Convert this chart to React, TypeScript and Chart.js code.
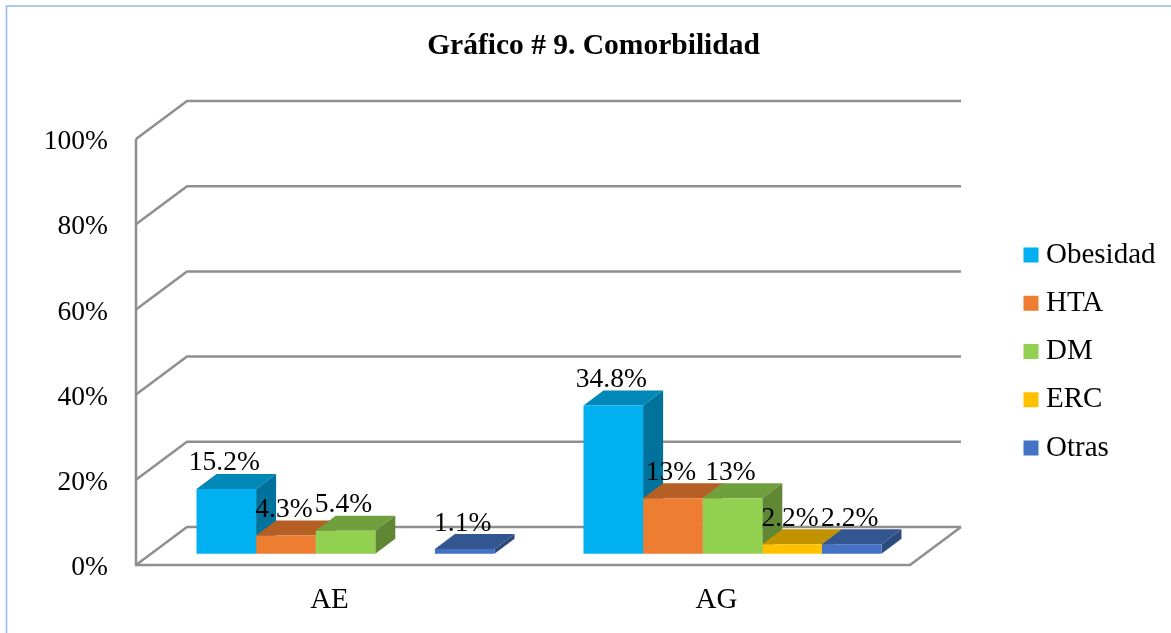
import React, { useEffect, useRef } from "react";
import { Chart, registerables } from "chart.js";

Chart.register(...registerables);

const categories = ["AE", "AG"];
const seriesNames = ["Obesidad", "HTA", "DM", "ERC", "Otras"];
const obesidad = [15.2, 34.8];
const hta = [4.3, 13];
const dm = [5.4, 13];
const erc = [null, 2.2];
const otras = [1.1, 2.2];
const seriesValues = [obesidad, hta, dm, erc, otras];
const seriesColors = ["#00B0F0", "#ED7D31", "#92D050", "#FFC000", "#4472C4"];
const seriesTops = ["#0088B9", "#B65F25", "#709F3D", "#C29300", "#345690"];
const seriesSides = ["#00729C", "#9A5020", "#5F8734", "#A67C00", "#2C4A7E"];
const yTicks = [0, 20, 40, 60, 80, 100];

const FONT = '"Liberation Serif", "Times New Roman", serif';
const GRID = "#8f8f8f";
const WALL = { dx: 51, dy: 38 };
const BAR_SHIFT = { dx: 16, dy: 11.3 };
const BAR_DEPTH = { dx: 20, dy: 15 };
const LEGEND_PADDING = 19.25;

const frame3d = {
  id: "frame3d",
  beforeLayout(chart: any) {
    const lg = chart.legend;
    if (lg && !lg.__patched) {
      const fit = lg.fit;
      lg.fit = function () {
        fit.call(this);
        this.width = 261;
      };
      lg.__patched = true;
    }
  },
  afterLayout(chart: any) {
    const lg = chart.legend;
    lg.left = 1030.5 - LEGEND_PADDING;
    lg.top += 35;
    lg.bottom += 35;
  },
  beforeDraw(chart: any) {
    const { ctx, chartArea: a, scales } = chart;
    const y = scales.y;
    ctx.save();
    ctx.fillStyle = "#ffffff";
    ctx.fillRect(0, 0, chart.width, chart.height);
    ctx.strokeStyle = "#8DB9E6";
    ctx.lineWidth = 1.5;
    ctx.beginPath();
    ctx.moveTo(6.5, chart.height);
    ctx.lineTo(6.5, 6);
    ctx.lineTo(chart.width, 6);
    ctx.stroke();

    ctx.strokeStyle = GRID;
    ctx.lineWidth = 2.5;
    ctx.lineJoin = "miter";
    for (const t of yTicks) {
      const py = y.getPixelForValue(t);
      ctx.beginPath();
      ctx.moveTo(a.left, py);
      ctx.lineTo(a.left + WALL.dx, py - WALL.dy);
      ctx.lineTo(a.right + WALL.dx, py - WALL.dy);
      ctx.stroke();
    }
    const y0 = y.getPixelForValue(0);
    ctx.beginPath();
    ctx.moveTo(a.left, y.getPixelForValue(100));
    ctx.lineTo(a.left, y0);
    ctx.lineTo(a.right, y0);
    ctx.lineTo(a.right + WALL.dx, y0 - WALL.dy);
    ctx.stroke();
    ctx.restore();
  },
  beforeDatasetsDraw(chart: any) {
    const { ctx } = chart;
    ctx.save();
    ctx.translate(BAR_SHIFT.dx, -BAR_SHIFT.dy);
    categories.forEach((_, c) => {
      seriesValues.forEach((vals, s) => {
        if (vals[c] == null) return;
        const el = chart.getDatasetMeta(s).data[c];
        const { x, y, base, width } = el.getProps(["x", "y", "base", "width"], true);
        const l = x - width / 2;
        const r = x + width / 2;
        const { dx, dy } = BAR_DEPTH;
        ctx.fillStyle = seriesTops[s];
        ctx.beginPath();
        ctx.moveTo(l, y);
        ctx.lineTo(l + dx, y - dy);
        ctx.lineTo(r + dx, y - dy);
        ctx.lineTo(r, y);
        ctx.closePath();
        ctx.fill();
        ctx.fillStyle = seriesSides[s];
        ctx.beginPath();
        ctx.moveTo(r, y);
        ctx.lineTo(r + dx, y - dy);
        ctx.lineTo(r + dx, base - dy);
        ctx.lineTo(r, base);
        ctx.closePath();
        ctx.fill();
      });
    });
  },
  afterDatasetsDraw(chart: any) {
    const { ctx } = chart;
    ctx.font = `27.5px ${FONT}`;
    ctx.fillStyle = "#000000";
    ctx.textAlign = "center";
    ctx.textBaseline = "alphabetic";
    seriesValues.forEach((vals, s) => {
      vals.forEach((v, c) => {
        if (v == null) return;
        const { x, y } = chart.getDatasetMeta(s).data[c].getProps(["x", "y"], true);
        ctx.fillText(`${v}%`, x - 2, y - 18.5);
      });
    });
    ctx.restore();
  },
};

export default function App() {
  const ref = useRef<HTMLCanvasElement>(null);
  useEffect(() => {
    const chart = new Chart(ref.current!, {
      type: "bar",
      data: {
        labels: categories,
        datasets: seriesNames.map((label, i) => ({
          label,
          data: seriesValues[i],
          backgroundColor: seriesColors[i],
          borderWidth: 0,
          categoryPercentage: 0.77,
          barPercentage: 1,
          clip: false,
        })),
      } as any,
      options: {
        animation: false,
        responsive: false,
        layout: { padding: { left: 16, top: 0, right: 0, bottom: 0 } },
        plugins: {
          title: {
            display: true,
            text: "Gráfico # 9. Comorbilidad",
            color: "#000000",
            font: { family: FONT, size: 29.5, weight: "bold" },
            padding: { top: 28.8, bottom: 74.8 },
          },
          legend: {
            display: true,
            position: "right",
            labels: {
              color: "#000000",
              font: { family: FONT, size: 29, lineHeight: 1.2 },
              usePointStyle: true,
              pointStyle: "rect",
              boxWidth: 1,
              boxHeight: 15,
              padding: LEGEND_PADDING,
            },
          },
          tooltip: { enabled: false },
        },
        scales: {
          x: {
            afterFit: (s: any) => { s.height = 68; },
            grid: { display: false, drawTicks: false },
            border: { display: false },
            ticks: { color: "#000000", font: { family: FONT, size: 29 }, padding: 18, maxRotation: 0 },
          },
          y: {
            min: 0,
            max: 100,
            afterFit: (s: any) => { s.width = 120; },
            afterBuildTicks: (s: any) => { s.ticks = yTicks.map((value) => ({ value })); },
            grid: { display: false, drawTicks: false },
            border: { display: false },
            ticks: {
              color: "#000000",
              font: { family: FONT, size: 27.5 },
              padding: 28,
              labelOffset: 3,
              callback: (v: any) => `${v}%`,
            },
          },
        },
      },
      plugins: [frame3d],
    } as any);
    return () => chart.destroy();
  }, []);
  return (
    <canvas
      ref={ref}
      width={1171}
      height={633}
      style={{ position: "absolute", left: 0, top: 0, width: 1171, height: 633, display: "block" }}
    />
  );
}
